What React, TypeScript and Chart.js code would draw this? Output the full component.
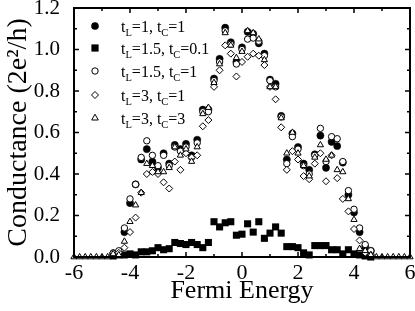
import React, { useEffect, useRef } from 'react';
import { Chart, registerables } from 'chart.js';

Chart.register(...registerables);

// Fermi energy grid (step 0.2)
const energy = [
  -6, -5.8, -5.6, -5.4, -5.2, -5, -4.8,
  -4.6, -4.4, -4.2, -4, -3.8, -3.6, -3.4, -3.2, -3, -2.8, -2.6, -2.4, -2.2, -2, -1.8, -1.6,
  -1.4, -1.2, -1, -0.8, -0.6, -0.4, -0.2, 0, 0.2, 0.4, 0.6, 0.8, 1, 1.2, 1.4, 1.6, 1.8, 2,
  2.2, 2.4, 2.6, 2.8, 3, 3.2, 3.4, 3.6, 3.8, 4, 4.2, 4.4, 4.6,
  4.8, 5, 5.2, 5.4, 5.6, 5.8, 6,
];

// values from E = -4.6 to 4.6
const gTL1TC1 = [
  0.01, 0.02, 0.12, 0.26, 0.35, 0.47, 0.52, 0.46, 0.43, 0.5, 0.45, 0.54, 0.52, 0.545, 0.49, 0.565,
  0.71, 0.71, 0.86, 0.955, 1.105, 1.035, 0.94, 1.01, 1.085, 1.075, 1.03, 0.98, 0.855, 0.835, 0.68,
  0.47, 0.595, 0.53, 0.45, 0.42, 0.495, 0.585, 0.43, 0.555, 0.535, 0.455, 0.3, 0.215, 0.12, 0.05, 0.03,
];
const gTL15TC01 = [
  0.005, 0.01, 0.01, 0.015, 0.01, 0.025, 0.025, 0.03, 0.045, 0.035, 0.04, 0.07, 0.065, 0.06, 0.07, 0.06,
  0.045, 0.07, 0.17, 0.145, 0.165, 0.17, 0.105, 0.11, 0.16, 0.12, 0.17, 0.09, 0.115, 0.145, 0.115,
  0.05, 0.05, 0.045, 0.02, 0.01, 0.055, 0.055, 0.055, 0.035, 0.035, 0.015, 0.035, 0.015, 0.01, 0.005, 0,
];
const gTL15TC1 = [
  0.02, 0.03, 0.14, 0.28, 0.35, 0.48, 0.56, 0.49, 0.44, 0.49, 0.44, 0.53, 0.51, 0.53, 0.48, 0.55,
  0.7, 0.7, 0.85, 0.94, 1.09, 1.025, 0.93, 1.0, 1.05, 1.055, 1.04, 0.97, 0.85, 0.82, 0.675,
  0.45, 0.58, 0.52, 0.44, 0.4, 0.49, 0.62, 0.46, 0.58, 0.57, 0.46, 0.32, 0.23, 0.14, 0.06, 0.03,
];
const gTL3TC1 = [
  0.02, 0.02, 0.045, 0.12, 0.19, 0.31, 0.4, 0.41, 0.4, 0.36, 0.33, 0.46, 0.42, 0.5, 0.48, 0.49,
  0.63, 0.66, 0.82, 0.9, 1.02, 0.98, 0.87, 0.94, 0.965, 0.98, 0.97, 0.925, 0.82, 0.76, 0.625,
  0.42, 0.51, 0.47, 0.39, 0.375, 0.45, 0.5, 0.365, 0.49, 0.38, 0.28, 0.22, 0.135, 0.08, 0.02, 0.01,
];
// values over the full grid E = -6 to 6
const gTL3TC3 = [
  0, 0, 0, 0, 0, 0, 0,
  0.015, 0.01, 0.075, 0.17, 0.25, 0.31, 0.45, 0.44, 0.41, 0.41, 0.43, 0.53, 0.49, 0.52, 0.46, 0.53,
  0.69, 0.72, 0.84, 0.93, 1.08, 1.02, 0.96, 0.99, 1.09, 1.08, 1.05, 0.95, 0.82, 0.82, 0.67,
  0.5, 0.6, 0.5, 0.44, 0.39, 0.48, 0.54, 0.47, 0.49, 0.42, 0.41, 0.28, 0.18, 0.04, 0.03, 0.01,
  0, 0, 0, 0, 0, 0, 0,
];

const legendTL = ['1', '1.5', '1.5', '3', '3'];
const legendTC = ['1', '0.1', '1', '1', '3'];
const markerKinds = ['dot', 'square', 'ring', 'diamond', 'triangle'];

const xTicks = [-6, -4, -2, 0, 2, 4, 6];
const yTicks = [0, 0.2, 0.4, 0.6, 0.8, 1.0, 1.2];

const FONT = "'Liberation Serif', 'Times New Roman', serif";

function drawMarker(ctx: CanvasRenderingContext2D, kind: string, x: number, y: number) {
  ctx.beginPath();
  ctx.lineWidth = 1;
  ctx.strokeStyle = '#000';
  if (kind === 'dot') {
    ctx.arc(x, y, 3.8, 0, Math.PI * 2);
    ctx.fillStyle = '#000';
    ctx.fill();
  } else if (kind === 'square') {
    ctx.fillStyle = '#000';
    ctx.fillRect(x - 3.6, y - 3.6, 7.2, 7.2);
  } else if (kind === 'ring') {
    ctx.arc(x, y, 3.2, 0, Math.PI * 2);
    ctx.fillStyle = '#fff';
    ctx.fill();
    ctx.stroke();
  } else if (kind === 'diamond') {
    ctx.moveTo(x, y - 3.5);
    ctx.lineTo(x + 3.5, y);
    ctx.lineTo(x, y + 3.5);
    ctx.lineTo(x - 3.5, y);
    ctx.closePath();
    ctx.fillStyle = '#fff';
    ctx.fill();
    ctx.stroke();
  } else {
    ctx.moveTo(x, y - 3.8);
    ctx.lineTo(x + 3.3, y + 2);
    ctx.lineTo(x - 3.3, y + 2);
    ctx.closePath();
    ctx.fillStyle = '#fff';
    ctx.fill();
    ctx.stroke();
  }
}

export default function App() {
  const ref = useRef<HTMLCanvasElement>(null);

  useEffect(() => {
    if (!ref.current) return;
    const core = energy.slice(7, 54);
    const pts = (xs: number[], ys: number[]) => xs.map((x, i) => ({ x, y: ys[i] }));

    const framePlugin = {
      id: 'frameAndLegend',
      afterDatasetsDraw(chart: any) {
        const { ctx, chartArea: a, scales } = chart;
        const xs = scales.x;
        const ys = scales.y;
        ctx.save();
        ctx.strokeStyle = '#000';
        ctx.lineWidth = 1.5;
        ctx.beginPath();
        for (let k = -6; k <= 6; k++) {
          const px = xs.getPixelForValue(k);
          const len = k % 2 === 0 ? 5 : 3;
          ctx.moveTo(px, a.bottom);
          ctx.lineTo(px, a.bottom - len);
          ctx.moveTo(px, a.top);
          ctx.lineTo(px, a.top + len);
        }
        for (let k = 0; k <= 12; k++) {
          const py = ys.getPixelForValue(k / 10);
          const len = k % 2 === 0 ? 5 : 3;
          ctx.moveTo(a.left, py);
          ctx.lineTo(a.left + len, py);
          ctx.moveTo(a.right, py);
          ctx.lineTo(a.right - len, py);
        }
        ctx.stroke();
        ctx.lineWidth = 2;
        ctx.strokeRect(a.left, a.top, a.right - a.left, a.bottom - a.top);

        // legend with subscripts
        const rowY = [26, 48, 71, 95, 118];
        const mx = 95;
        const tx = 121;
        const big = `16px ${FONT}`;
        const small = `10.5px ${FONT}`;
        ctx.fillStyle = '#000';
        ctx.textBaseline = 'alphabetic';
        ctx.textAlign = 'left';
        legendTL.forEach((tl, i) => {
          const y = rowY[i];
          drawMarker(ctx, markerKinds[i], mx, y);
          const base = y + 6;
          const parts: [string, boolean][] = [
            ['t', false], ['L', true], ['=' + tl + ', t', false], ['C', true], ['=' + legendTC[i], false],
          ];
          let x = tx;
          ctx.fillStyle = '#000';
          parts.forEach(([t, sub]) => {
            ctx.font = sub ? small : big;
            ctx.fillText(t, x, sub ? base + 4 : base);
            x += ctx.measureText(t).width;
          });
        });
        ctx.restore();
      },
    };

    const common = { showLine: false, clip: false as any, borderColor: '#000' };

    const chart = new Chart(ref.current, {
      type: 'scatter',
      data: {
        datasets: [
          {
            ...common,
            label: 'tL=3, tC=3',
            data: pts(energy, gTL3TC3),
            pointStyle: 'triangle',
            pointRadius: 3.6,
            backgroundColor: '#fff',
            borderWidth: 1,
            order: 0,
          },
          {
            ...common,
            label: 'tL=3, tC=1',
            data: pts(core, gTL3TC1),
            pointStyle: 'rectRot',
            pointRadius: 3.5,
            backgroundColor: '#fff',
            borderWidth: 1,
            order: 1,
          },
          {
            ...common,
            label: 'tL=1.5, tC=1',
            data: pts(core, gTL15TC1),
            pointStyle: 'circle',
            pointRadius: 3.2,
            backgroundColor: '#fff',
            borderWidth: 1,
            order: 2,
          },
          {
            ...common,
            label: 'tL=1.5, tC=0.1',
            data: pts(core, gTL15TC01),
            pointStyle: 'rect',
            pointRadius: 5,
            backgroundColor: '#000',
            borderWidth: 0,
            order: 3,
          },
          {
            ...common,
            label: 'tL=1, tC=1',
            data: pts(core, gTL1TC1),
            pointStyle: 'circle',
            pointRadius: 3.6,
            backgroundColor: '#000',
            borderWidth: 0.5,
            order: 4,
          },
        ],
      },
      options: {
        animation: false,
        responsive: false,
        events: [],
        layout: { padding: { top: 8, right: 2, left: 0, bottom: 0 } },
        plugins: { legend: { display: false }, tooltip: { enabled: false } },
        scales: {
          x: {
            type: 'linear',
            min: -6,
            max: 6,
            grid: { display: false },
            border: { display: false },
            afterBuildTicks: (s: any) => {
              s.ticks = xTicks.map((v) => ({ value: v }));
            },
            afterFit: (s: any) => {
              s.height = 54;
              s.paddingLeft = 0;
              s.paddingRight = 0;
            },
            ticks: {
              color: '#000',
              font: { family: FONT, size: 22, lineHeight: 1 },
              padding: -3,
              maxRotation: 0,
              callback: (v: any) => String(v),
            },
            title: {
              display: true,
              text: 'Fermi Energy',
              color: '#000',
              font: { family: FONT, size: 26 },
              padding: { top: 0, bottom: 4 },
            },
          },
          y: {
            type: 'linear',
            min: 0,
            max: 1.2,
            grid: { display: false },
            border: { display: false },
            afterBuildTicks: (s: any) => {
              s.ticks = yTicks.map((v) => ({ value: v }));
            },
            afterFit: (s: any) => {
              s.width = 74;
              s.paddingTop = 0;
              s.paddingBottom = 0;
            },
            ticks: {
              color: '#000',
              font: { family: FONT, size: 21 },
              padding: 6,
              callback: (v: any) => Number(v).toFixed(1),
            },
            title: {
              display: true,
              text: 'Conductance (2e²/h)',
              color: '#000',
              font: { family: FONT, size: 28 },
              padding: { top: 2, bottom: 0 },
            },
          },
        },
      },
      plugins: [framePlugin],
    } as any);

    return () => chart.destroy();
  }, []);

  return (
    <div style={{ position: 'fixed', left: 0, top: 0, width: 415, height: 311, background: '#fff' }}>
      <canvas ref={ref} width={415} height={311} />
    </div>
  );
}
